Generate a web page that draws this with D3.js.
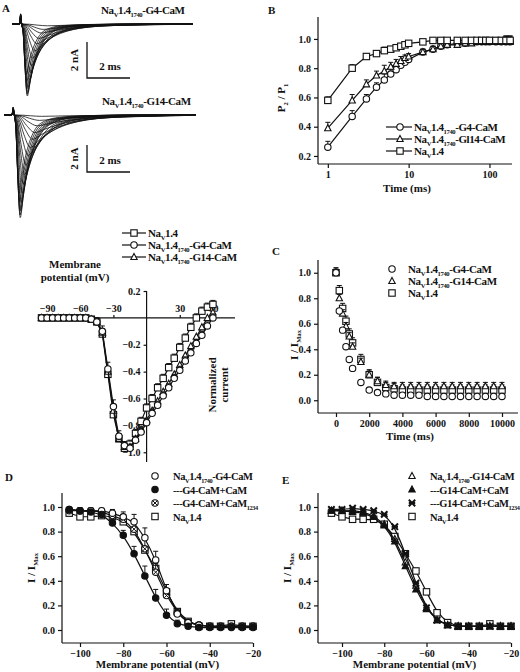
<!DOCTYPE html>
<meta charset="utf-8">
<head>
<script src="https://d3js.org/d3.v7.min.js"></script>
<style>
  body { margin: 0; background: #fff; }
  svg text { font-family: "Liberation Serif", "DejaVu Serif", serif; font-weight: bold; fill: #111; }
  .axis path, .axis line { stroke: #111; stroke-width: 1.2; }
  .axis text { font-size: 10px; }
  .leg { letter-spacing: -0.4px; }
</style>
</head>
<body>
<div id="fig"></div>
<script>
// ---------- data ----------
// A: current traces (template shape scaled per trace)
var tplT = [0, 0.3, 0.6, 1, 1.5, 2, 3, 4, 6, 9, 14, 22];
var tplV = [0, 0.15, 0.6, 1, 0.8, 0.6, 0.35, 0.2, 0.08, 0.03, 0.01, 0];
var g4Peak  = [0.1, 0.3, 0.5, 0.8, 1.1, 1.5, 1.9, 2.3, 2.7, 3.1, 3.5, 3.8, 4.0, 3.9, 3.6, 3.2, 2.8];
var g4Tpk   = [1.2, 1.0, 0.9, 0.8, 0.7, 0.6, 0.5, 0.45, 0.4, 0.35, 0.3, 0.28, 0.26, 0.25, 0.24, 0.23, 0.22];
var g14Peak = [0.1, 0.4, 0.8, 1.3, 1.8, 2.4, 3.0, 3.7, 4.4, 5.1, 5.8, 6.5, 7.1, 7.6, 7.4, 7.0, 6.4, 5.8];
var g14Tpk  = [1.2, 1.1, 1.0, 0.9, 0.8, 0.7, 0.6, 0.5, 0.45, 0.4, 0.35, 0.3, 0.28, 0.26, 0.25, 0.24, 0.23, 0.22];

// I-V
var ivV    = [-95,-90,-85,-80,-75,-70,-65,-60,-55,-50,-45,-40,-35,-30,-25,-20,-15,-10,-5,0,5,10,15,20,25,30,35,40,45,50,55,60];
var ivNav  = [0,0,0,0,0,0,0,0,0,-0.01,-0.03,-0.12,-0.42,-0.72,-0.9,-0.97,-0.94,-0.86,-0.77,-0.67,-0.6,-0.52,-0.45,-0.37,-0.3,-0.22,-0.15,-0.07,0,0.05,0.08,0.1];
var ivG4   = [0,0,0,0,0,0,0,0,0,-0.01,-0.03,-0.1,-0.38,-0.66,-0.88,-0.95,-0.97,-0.91,-0.85,-0.78,-0.71,-0.65,-0.58,-0.52,-0.45,-0.39,-0.32,-0.26,-0.19,-0.13,-0.06,0];
var ivG14  = [0,0,0,0,0,0,0,0,0,-0.01,-0.03,-0.11,-0.4,-0.69,-0.9,-0.96,-0.96,-0.9,-0.83,-0.76,-0.69,-0.62,-0.55,-0.49,-0.42,-0.35,-0.28,-0.21,-0.14,-0.07,0,0.04];
var ivErr  = [0.01,0.01,0.01,0.01,0.01,0.01,0.01,0.01,0.01,0.02,0.03,0.04,0.05,0.05,0.04,0.03,0.03,0.03,0.03,0.03,0.03,0.03,0.03,0.03,0.03,0.03,0.03,0.03,0.03,0.03,0.03,0.03];

// B: recovery
var bT    = [1,2,3,4,5,6,7,8,9,10,15,20,25,30,40,50,60,70,80,90,100,120,140,160,180];
var bNav  = [0.58,0.80,0.88,0.90,0.92,0.93,0.94,0.95,0.96,0.97,0.98,0.99,0.99,0.99,0.99,0.99,0.99,0.99,0.99,0.99,0.99,0.99,0.99,0.99,0.99];
var bG4   = [0.26,0.47,0.59,0.67,0.72,0.76,0.79,0.82,0.84,0.86,0.91,0.93,0.95,0.96,0.97,0.97,0.98,0.98,0.98,0.98,0.98,0.98,0.98,0.98,0.98];
var bG14  = [0.39,0.58,0.69,0.75,0.78,0.81,0.83,0.85,0.87,0.88,0.91,0.93,0.95,0.96,0.96,0.97,0.97,0.98,0.98,0.98,0.98,0.98,0.98,0.98,0.98];
var bErr  = [0.04,0.04,0.03,0.03,0.04,0.03,0.03,0.03,0.02,0.02,0.02,0.02,0.02,0.02,0.02,0.02,0.02,0.02,0.02,0.02,0.03,0.03,0.03,0.04,0.04];

// C: slow inactivation time course
var cT    = [0,200,400,600,800,1000,1500,2000,2500,3000,3500,4000,4500,5000,5500,6000,6500,7000,7500,8000,8500,9000,9500,10000];
var cG4   = [1,0.70,0.55,0.42,0.32,0.25,0.14,0.08,0.06,0.05,0.04,0.04,0.04,0.04,0.03,0.03,0.03,0.03,0.03,0.03,0.03,0.03,0.03,0.03];
var cG14  = [1,0.80,0.68,0.58,0.50,0.42,0.30,0.20,0.15,0.12,0.11,0.11,0.11,0.11,0.11,0.11,0.11,0.11,0.11,0.11,0.11,0.11,0.11,0.11];
var cNav  = [1,0.86,0.72,0.62,0.52,0.45,0.32,0.20,0.14,0.10,0.09,0.08,0.08,0.08,0.08,0.08,0.08,0.08,0.08,0.08,0.08,0.08,0.08,0.08];

// D, E: steady-state inactivation
var ssV     = [-105,-100,-95,-90,-85,-80,-75,-70,-65,-60,-55,-50,-45,-40,-35,-30,-25,-20];
var dG4     = [0.98,0.97,0.97,0.97,0.95,0.92,0.88,0.75,0.57,0.32,0.13,0.06,0.04,0.03,0.03,0.03,0.03,0.03];
var dCaM    = [0.98,0.97,0.96,0.94,0.87,0.77,0.62,0.44,0.26,0.12,0.05,0.03,0.02,0.02,0.02,0.02,0.02,0.02];
var dCaM1234= [0.97,0.97,0.97,0.96,0.93,0.90,0.82,0.66,0.47,0.28,0.14,0.06,0.04,0.03,0.03,0.03,0.03,0.03];
var ssNav   = [0.95,0.92,0.92,0.93,0.92,0.88,0.80,0.65,0.50,0.31,0.15,0.07,0.03,0.03,0.03,0.05,0.03,0.03];
var eG14    = [0.97,0.97,0.97,0.96,0.93,0.86,0.74,0.55,0.36,0.18,0.08,0.04,0.03,0.03,0.03,0.03,0.03,0.03];
var eCaM    = [0.97,0.97,0.96,0.95,0.92,0.85,0.72,0.52,0.33,0.17,0.08,0.04,0.03,0.03,0.03,0.03,0.03,0.03];
var eCaM1234= [0.98,0.98,0.99,0.98,0.97,0.94,0.84,0.62,0.38,0.18,0.08,0.04,0.03,0.03,0.03,0.03,0.03,0.03];
var eNav    = [0.95,0.92,0.90,0.90,0.90,0.86,0.76,0.62,0.48,0.31,0.14,0.06,0.03,0.03,0.03,0.05,0.03,0.03];

// ---------- drawing ----------
var svg = d3.select("#fig").append("svg").attr("width", 520).attr("height", 672);

function sym(g, type, x, y, r) {
  r = r || 3.2;
  if (type == "circle" || type == "fcircle" || type == "xcircle") {
    g.append("circle").attr("cx", x).attr("cy", y).attr("r", r)
      .attr("fill", type == "fcircle" ? "#111" : "#fff").attr("stroke", "#111").attr("stroke-width", 1.1);
    if (type == "xcircle") {
      g.append("path").attr("d", "M" + (x - r * .7) + "," + (y - r * .7) + "L" + (x + r * .7) + "," + (y + r * .7) +
        "M" + (x + r * .7) + "," + (y - r * .7) + "L" + (x - r * .7) + "," + (y + r * .7)).attr("stroke", "#111");
    }
  } else if (type == "square") {
    g.append("rect").attr("x", x - r).attr("y", y - r).attr("width", 2 * r).attr("height", 2 * r)
      .attr("fill", "#fff").attr("stroke", "#111").attr("stroke-width", 1.1);
  } else if (type == "tri" || type == "ftri") {
    g.append("path").attr("d", "M" + x + "," + (y - r * 1.1) + "L" + (x + r) + "," + (y + r * .8) + "L" + (x - r) + "," + (y + r * .8) + "Z")
      .attr("fill", type == "ftri" ? "#111" : "#fff").attr("stroke", "#111").attr("stroke-width", 1.1);
  } else if (type == "star") {
    g.append("path").attr("d", "M" + (x - r) + "," + (y - r) + "L" + (x + r) + "," + (y + r) + "M" + (x + r) + "," + (y - r) + "L" + (x - r) + "," + (y + r) +
      "M" + (x - r) + "," + y + "L" + (x + r) + "," + y).attr("stroke", "#111").attr("stroke-width", 2);
  }
}

// text with sub-scripts; parts = [[text, isSub, dy], ...]
function richText(x, y, parts, size, anchor) {
  var t = svg.append("text").attr("x", x).attr("y", y).attr("font-size", size || 11).attr("text-anchor", anchor || "start");
  parts.forEach(function(p) {
    var s = t.append("tspan").text(p[0]);
    if (p[1]) s.attr("font-size", (size || 11) * 0.6).attr("dy", 3);
    else s.attr("dy", p[2] || 0);
  });
  return t;
}
function navLabel(x, y, suffix, size, noSub) {
  var parts = [["Na"], ["V", true], ["1.4", false, -3]];
  if (!noSub) { parts.push(["1740", true]); parts.push([suffix, false, -3]); }
  return richText(x, y, parts, size).attr("class", "leg");
}

function series(xs, ys, xsc, ysc, type, withLine, err, curve) {
  var pts = xs.map(function(v, i) { return [xsc(v), ysc(ys[i])]; });
  if (withLine) {
    svg.append("path").attr("d", d3.line().curve(curve || d3.curveLinear)(pts))
      .attr("fill", "none").attr("stroke", "#111").attr("stroke-width", 1.2);
  }
  var g = svg.append("g");
  pts.forEach(function(p, i) {
    if (err) {
      var e = ysc(ys[i] + err[i]);
      g.append("path").attr("d", "M" + p[0] + "," + p[1] + "V" + e + "M" + (p[0] - 2.5) + "," + e + "H" + (p[0] + 2.5)).attr("stroke", "#111");
    }
    sym(g, type, p[0], p[1]);
  });
}

function axis(gen, tx, ty) {
  return svg.append("g").attr("class", "axis").attr("transform", "translate(" + tx + "," + ty + ")").call(gen);
}

// ---------- Panel A ----------
svg.append("text").attr("x", 2).attr("y", 12).attr("font-size", 11).text("A");
function traces(peaks, tpks, x0, x1, y0, pxPerNA, title, ty) {
  var xs = d3.scaleLinear().domain([0, 8.4]).range([x0, x1]);
  var ys = d3.scaleLinear().domain([0, -1]).range([y0, y0 + pxPerNA]);
  peaks.forEach(function(pk, k) {
    var pts = [[0, 0], [0.35, 0], [0.4, 0.25 + 0.02 * k]];
    tplT.forEach(function(t, i) { var tt = 0.45 + t * tpks[k]; if (tt < 8.4) pts.push([tt, -pk * tplV[i]]); });
    pts.push([8.4, 0]);
    svg.append("path").attr("d", d3.line().curve(d3.curveMonotoneX).x(function(d) { return xs(d[0]); }).y(function(d) { return ys(d[1]); })(pts))
      .attr("fill", "none").attr("stroke", "#111").attr("stroke-width", 0.8);
  });
  navLabel(ty[0], ty[1], "-" + title, 11);
}
traces(g4Peak, g4Tpk, 12, 193, 24, 18, "G4-CaM", [101, 14]);
traces(g14Peak, g14Tpk, 4, 196, 115, 13.5, "G14-CaM", [102, 105]);
[[87, 42, 78, 130], [87, 145, 172, 130]].forEach(function(b, i) {
  svg.append("path").attr("d", "M" + b[0] + "," + b[1] + "V" + b[2] + "H" + b[3]).attr("fill", "none").attr("stroke", "#111").attr("stroke-width", 1.3);
  svg.append("text").attr("transform", "translate(78," + ((b[1] + b[2]) / 2) + ") rotate(-90)").attr("text-anchor", "middle").attr("font-size", 11).text("2 nA");
  svg.append("text").attr("x", 110).attr("y", b[2] - 8).attr("text-anchor", "middle").attr("font-size", 11).text("2 ms");
});

// ---------- I-V ----------
var ivx = d3.scaleLinear().domain([-100, 70]).range([36, 224]);
var ivy = d3.scaleLinear().domain([0.2, -1.05]).range([291, 459]);
axis(d3.axisTop(ivx).tickValues([-90, -60, -30, 30, 60]).tickSize(3).tickFormat(d3.format("d")), 0, ivy(0)).select(".domain").attr("d", "M38,0H235");
var ivyAx = axis(d3.axisLeft(ivy).tickValues([0.2, -0.2, -0.4, -0.6, -0.8, -1.0]).tickSize(3).tickFormat(d3.format(".1f")), ivx(0), 0);
ivyAx.select(".domain").attr("d", "M0,291V462");
series(ivV, ivNav, ivx, ivy, "square", true, ivErr);
series(ivV, ivG14, ivx, ivy, "tri", true);
series(ivV, ivG4, ivx, ivy, "circle", true, ivErr);
svg.append("text").attr("x", 75).attr("y", 268).attr("text-anchor", "middle").attr("font-size", 11).text("Membrane");
svg.append("text").attr("x", 75).attr("y", 281).attr("text-anchor", "middle").attr("font-size", 11).text("potential (mV)");
svg.append("text").attr("transform", "translate(216,385) rotate(-90)").attr("text-anchor", "middle").attr("font-size", 11).text("Normalized");
svg.append("text").attr("transform", "translate(228,385) rotate(-90)").attr("text-anchor", "middle").attr("font-size", 11).text("current");
[["square", "", true], ["circle", "-G4-CaM"], ["tri", "-G14-CaM"]].forEach(function(l, i) {
  var y = 233 + i * 12;
  svg.append("path").attr("d", "M122," + y + "H146").attr("stroke", "#111").attr("stroke-width", 1.2);
  sym(svg, l[0], 134, y);
  navLabel(148, y + 4, l[1], 11, l[2]);
});

// ---------- Panel B ----------
svg.append("text").attr("x", 268).attr("y", 14).attr("font-size", 11).text("B");
var bx = d3.scaleLog().domain([0.8, 190]).range([320, 512]);
var by = d3.scaleLinear().domain([0.145, 1.15]).range([164, 17]);
axis(d3.axisBottom(bx).tickValues([1, 10, 100]).tickSize(4).tickFormat(d3.format("d")), 0, 164).select(".domain").attr("d", "M318,0H512");
axis(d3.axisLeft(by).tickValues([0.2, 0.4, 0.6, 0.8, 1.0]).tickSize(4).tickFormat(d3.format(".1f")), 318, 0).select(".domain").attr("d", "M0,164V17");
series(bT, bG4, bx, by, "circle", true, bErr);
series(bT, bG14, bx, by, "tri", true, bErr);
series(bT, bNav, bx, by, "square", true, bErr.map(function(e) { return e * 0.6; }));
svg.append("text").attr("x", 407).attr("y", 192).attr("text-anchor", "middle").attr("font-size", 11).text("Time (ms)");
richText(0, 0, [["P"], ["2", true], [" / P", false, -3], ["1", true]], 11, "middle").attr("transform", "translate(285,98) rotate(-90)");
[["circle", "-G4-CaM"], ["tri", "-Gl14-CaM"], ["square", "", true]].forEach(function(l, i) {
  var y = 127 + i * 12;
  svg.append("path").attr("d", "M386," + y + "H412").attr("stroke", "#111").attr("stroke-width", 1.2);
  sym(svg, l[0], 400, y);
  navLabel(414, y + 4, l[1], 11, l[2]);
});

// ---------- Panel C ----------
svg.append("text").attr("x", 272).attr("y", 255).attr("font-size", 11).text("C");
var cx = d3.scaleLinear().domain([-1084, 10964]).range([318, 518]);
var cy = d3.scaleLinear().domain([-0.1, 1.1]).range([413, 260]);
axis(d3.axisBottom(cx).tickValues([0, 2000, 4000, 6000, 8000, 10000]).tickSize(4).tickFormat(d3.format("d")), 0, 413).select(".domain").attr("d", "M318,0H518");
axis(d3.axisLeft(cy).tickValues([0, 0.2, 0.4, 0.6, 0.8, 1.0]).tickSize(4).tickFormat(d3.format(".1f")), 318, 0).select(".domain").attr("d", "M0,413V260");
series(cT, cNav, cx, cy, "square", false, cNav.map(function() { return 0.04; }));
series(cT, cG14, cx, cy, "tri", false, cG14.map(function() { return 0.03; }));
series(cT, cG4, cx, cy, "circle", false);
svg.append("text").attr("x", 410).attr("y", 440).attr("text-anchor", "middle").attr("font-size", 11).text("Time (ms)");
richText(0, 0, [["I / I"], ["Max", true]], 11, "middle").attr("transform", "translate(298,345) rotate(-90)");
[["circle", "-G4-CaM"], ["tri", "-G14-CaM"], ["square", "", true]].forEach(function(l, i) {
  var y = 269 + i * 12;
  sym(svg, l[0], 392, y);
  navLabel(408, y + 4, l[1], 11, l[2]);
});

// ---------- Panels D and E ----------
function ssPanel(letter, lx, ly, x0, x1, sets, legend, legX) {
  svg.append("text").attr("x", lx).attr("y", ly).attr("font-size", 11).text(letter);
  var xs = d3.scaleLinear().domain([-100, -20]).range(x1 == 253 ? [80, 253] : [342, 511]);
  var ys = d3.scaleLinear().domain([0, 1.0]).range([630, 507]);
  axis(d3.axisBottom(xs).tickValues([-100, -80, -60, -40, -20]).tickSize(4).tickFormat(d3.format("d")), 0, 643).select(".domain").attr("d", "M" + x0 + ",0H" + x1);
  axis(d3.axisLeft(ys).tickValues([0, 0.2, 0.4, 0.6, 0.8, 1.0]).tickSize(4).tickFormat(d3.format(".1f")), x0, 0).select(".domain").attr("d", "M0,643V493");
  sets.forEach(function(s) { series(ssV, s[0], xs, ys, s[1], true, s[2], d3.curveBasis); });
  svg.append("text").attr("x", (x0 + x1) / 2).attr("y", 668).attr("text-anchor", "middle").attr("font-size", 11).text("Membrane potential (mV)");
  richText(0, 0, [["I / I"], ["Max", true]], 11, "middle").attr("transform", "translate(" + (x0 - 27) + ",568) rotate(-90)");
  legend.forEach(function(l, i) {
    var y = 476 + i * 13.5;
    sym(svg, l[0], legX, y);
    if (l[2]) navLabel(legX + 18, y + 4, "", 10.5, true);
    else if (l[3]) navLabel(legX + 18, y + 4, l[1], 10.5);
    else richText(legX + 18, y + 4, l[1], 10.5).attr("class", "leg");
  });
}
var errD = [0.01,0.02,0.02,0.02,0.03,0.04,0.06,0.08,0.07,0.05,0.03,0.02,0.01,0.01,0.01,0.02,0.01,0.01];
ssPanel("D", 5, 481, 62, 253,
  [[ssNav, "square"], [dCaM1234, "xcircle", errD], [dG4, "circle", errD], [dCaM, "fcircle", errD]],
  [["circle", "-G4-CaM", false, true], ["fcircle", [["---G4-CaM+CaM"]]], ["xcircle", [["---G4-CaM+CaM"], ["1234", true]]], ["square", "", true]], 155);
ssPanel("E", 282, 484, 318, 511,
  [[eNav, "square"], [eG14, "tri"], [eCaM, "ftri"], [eCaM1234, "star"]],
  [["tri", "-G14-CaM", false, true], ["ftri", [["---G14-CaM+CaM"]]], ["star", [["---G14-CaM+CaM"], ["1234", true]]], ["square", "", true]], 412);
</script>
</body>
